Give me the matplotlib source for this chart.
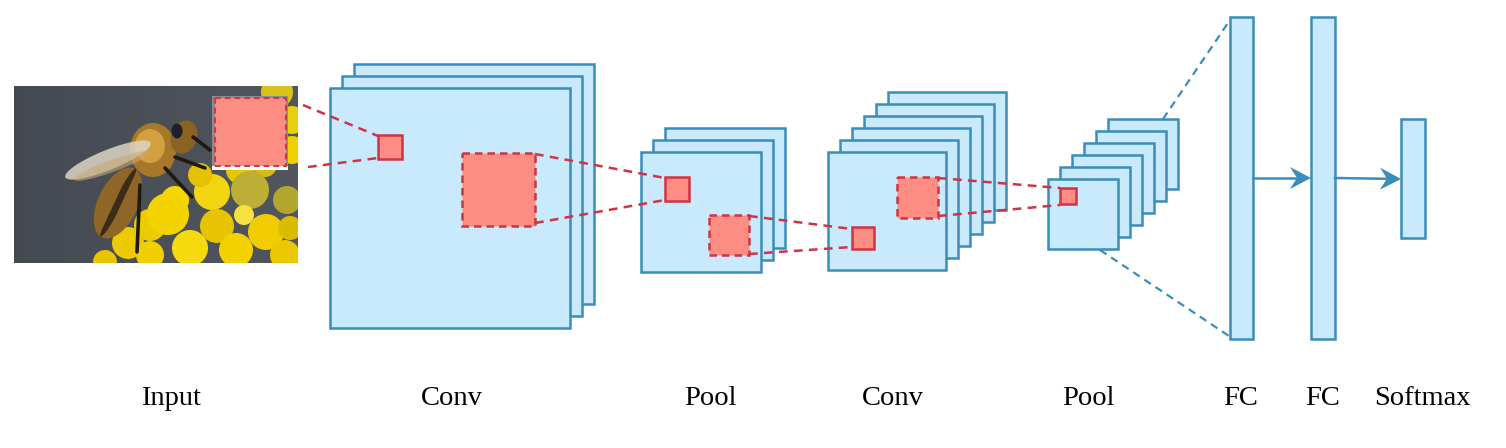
import matplotlib
matplotlib.use("Agg")
import matplotlib.pyplot as plt
import matplotlib.patches as patches
import numpy as np

# lienzo en pixeles (1506 x 448)
W, H = 1506, 448

AZUL_RELLENO = "#c8eafc"
AZUL_BORDE = "#3a8dba"
ROJO_RELLENO = "#fd8c82"
ROJO_BORDE = "#cf3444"

# capas apiladas: (x_frente, y_frente, lado, n_mapas, desplazamiento)
capas = [
    (330, 88, 240, 3, 12),    # Conv
    (641, 152, 120, 3, 12),   # Pool
    (828, 152, 118, 6, 12),   # Conv
    (1048, 179, 70, 6, 12),   # Pool
]

# barras FC / softmax: (x, y, ancho, alto)
barras = [
    (1230, 17, 23, 322),
    (1311, 17, 24, 322),
    (1401, 119, 24, 119),
]

# campos receptivos: (x, y, lado, discontinuo)
cuadros_rojos = [
    (378, 135, 24, False),
    (462, 153, 73, True),
    (665, 177, 24, False),
    (709, 215, 40, True),
    (852, 227, 22, False),
    (897, 177, 41, True),
    (1060, 188, 16, False),
]

# lineas rojas discontinuas entre campos receptivos
lineas_rojas = [
    ((303, 105), (378, 136)),
    ((308, 167), (378, 158)),
    ((535, 154), (665, 178)),
    ((535, 223), (665, 200)),
    ((749, 216), (852, 229)),
    ((749, 254), (852, 247)),
    ((938, 178), (1060, 188)),
    ((938, 216), (1060, 205)),
]

lineas_azules = [
    ((1163, 119), (1230, 20)),
    ((1100, 250), (1232, 338)),
]

flechas = [
    ((1253, 178), (1311, 178)),
    ((1335, 178), (1401, 179)),
]

etiquetas = ["Input", "Conv", "Pool", "Conv", "Pool", "FC", "FC", "Softmax"]
pos_etiquetas = [171, 452, 710, 893, 1088, 1241, 1323, 1422]

# foto de entrada (aproximada)
FOTO = (14, 86, 284, 177)
flores = [  # (x, y, radio, color)
    (277, 92, 16, "#d9c21a"), (292, 120, 14, "#e8cf10"), (292, 150, 14, "#f0d000"),
    (270, 140, 12, "#e2c40a"), (240, 170, 14, "#e6c800"),
    (212, 192, 18, "#f2d410"), (175, 200, 14, "#f4d700"), (150, 225, 16, "#eccb00"),
    (168, 214, 21, "#f4d400"), (128, 243, 16, "#ecc900"), (190, 248, 18, "#f6da10"),
    (217, 226, 17, "#e8c400"), (236, 250, 17, "#f3d000"), (266, 232, 18, "#f0cc00"),
    (285, 255, 15, "#e9c800"), (150, 255, 14, "#f0ce00"), (200, 175, 12, "#e5c200"),
    (265, 165, 12, "#d8bb10"), (105, 262, 12, "#e6c400"), (290, 228, 12, "#dcbc00"),
    (250, 190, 19, "#bcae36"), (287, 200, 14, "#b2a72e"), (244, 215, 10, "#f8e040"),
]


def rect(ax, x, y, w, h, fc, ec, ls="-", lw=1.8, z=2):
    ax.add_patch(patches.Rectangle((x, y), w, h, facecolor=fc, edgecolor=ec,
                                   linewidth=lw, linestyle=ls, zorder=z))


fig = plt.figure(figsize=(W / 100, H / 100), dpi=100)
ax = fig.add_axes([0, 0, 1, 1])
ax.set_xlim(0, W)
ax.set_ylim(H, 0)
ax.axis("off")

# --- foto ---
fx, fy, fw, fh = FOTO
grad = np.linspace(0, 1, 64)[None, :] * np.ones((64, 1))
fondo = np.zeros((64, 64, 3))
fondo[..., 0] = 0.27 + 0.05 * grad
fondo[..., 1] = 0.29 + 0.05 * grad
fondo[..., 2] = 0.32 + 0.05 * grad
ax.imshow(fondo, extent=(fx, fx + fw, fy + fh, fy), zorder=1, aspect="auto")
marco = patches.Rectangle((fx, fy), fw, fh, transform=ax.transData)

partes = []
for (cx, cy, r, c) in flores:
    partes.append(patches.Circle((cx, cy), r, facecolor=c, edgecolor="none", zorder=1.2))
# alas
partes.append(patches.Ellipse((108, 160), 92, 20, angle=-22, facecolor="#ddd4c4",
                              edgecolor="none", alpha=0.85, zorder=1.6))
partes.append(patches.Ellipse((112, 166), 80, 12, angle=-20, facecolor="#c7a878",
                              edgecolor="none", alpha=0.6, zorder=1.61))
# abdomen
partes.append(patches.Ellipse((118, 203), 40, 76, angle=25, facecolor="#8f6628",
                              edgecolor="none", zorder=1.4))
for t in [-20, -7, 6, 19]:
    partes.append(patches.Ellipse((118 - t * 0.42, 203 + t * 0.9), 38, 6, angle=-60,
                                  facecolor="#3a2c16", edgecolor="none", zorder=1.45))
# torax y cabeza
partes.append(patches.Ellipse((153, 150), 46, 54, facecolor="#a8782a", edgecolor="none", zorder=1.5))
partes.append(patches.Ellipse((150, 146), 30, 34, facecolor="#d3a040", edgecolor="none", zorder=1.55))
partes.append(patches.Ellipse((184, 137), 26, 34, angle=20, facecolor="#8a6222", edgecolor="none", zorder=1.7))
partes.append(patches.Ellipse((177, 131), 11, 15, facecolor="#1d1f2a", edgecolor="none", zorder=1.75))
for p in partes:
    ax.add_patch(p)
    p.set_clip_path(marco)
patas = [((140, 185), (137, 252)), ((165, 168), (192, 197)), ((175, 157), (205, 168)),
         ((193, 137), (210, 150))]
for (a, b) in patas:
    ln, = ax.plot([a[0], b[0]], [a[1], b[1]], color="#1e1a14", lw=2.6, zorder=1.8,
                  solid_capstyle="round")
    ln.set_clip_path(marco)

# cuadro rojo sobre la foto
rect(ax, 212, 96, 76, 73, "#8a8c90", "none", z=2)
rect(ax, 212, 166, 76, 4, "white", "none", z=2.1)
rect(ax, 215, 98, 71, 68, ROJO_RELLENO, ROJO_BORDE, ls=(0, (3, 2)), lw=1.4, z=2.2)

# --- capas convolucionales / pooling ---
for (x0, y0, s, n, d) in capas:
    for i in reversed(range(n)):
        rect(ax, x0 + i * d, y0 - i * d, s, s, AZUL_RELLENO, AZUL_BORDE, z=3 + (n - i) * 0.01)

for (x0, y0, w, h) in barras:
    rect(ax, x0, y0, w, h, AZUL_RELLENO, AZUL_BORDE, z=3)

for (x0, y0, s, disc) in cuadros_rojos:
    rect(ax, x0, y0, s, s, ROJO_RELLENO, ROJO_BORDE,
         ls=(0, (3, 2)) if disc else "-", lw=1.8, z=4)

for (a, b) in lineas_rojas:
    ax.plot([a[0], b[0]], [a[1], b[1]], color=ROJO_BORDE, lw=1.8,
            linestyle=(0, (3.5, 2.5)), zorder=5)

for (a, b) in lineas_azules:
    ax.plot([a[0], b[0]], [a[1], b[1]], color=AZUL_BORDE, lw=1.6,
            linestyle=(0, (3.5, 2.5)), zorder=2.5)

# flechas con punta tipo "stealth"
for (a, b) in flechas:
    a = np.array(a, float)
    b = np.array(b, float)
    u = (b - a) / np.linalg.norm(b - a)
    n = np.array([-u[1], u[0]])
    largo, ancho, muesca = 21, 11, 7
    base = b - u * largo
    ax.plot([a[0], (b - u * 10)[0]], [a[1], (b - u * 10)[1]], color=AZUL_BORDE,
            lw=1.8, zorder=5)
    punta = [b, base + n * ancho, b - u * (largo - muesca), base - n * ancho]
    ax.add_patch(patches.Polygon(punta, closed=True, facecolor=AZUL_BORDE,
                                 edgecolor="none", zorder=5))

for txt, xp in zip(etiquetas, pos_etiquetas):
    ax.text(xp, 405, txt, ha="center", va="baseline", fontsize=20.5,
            family="Liberation Serif", color="black")

fig.savefig("out.png", dpi=100)
